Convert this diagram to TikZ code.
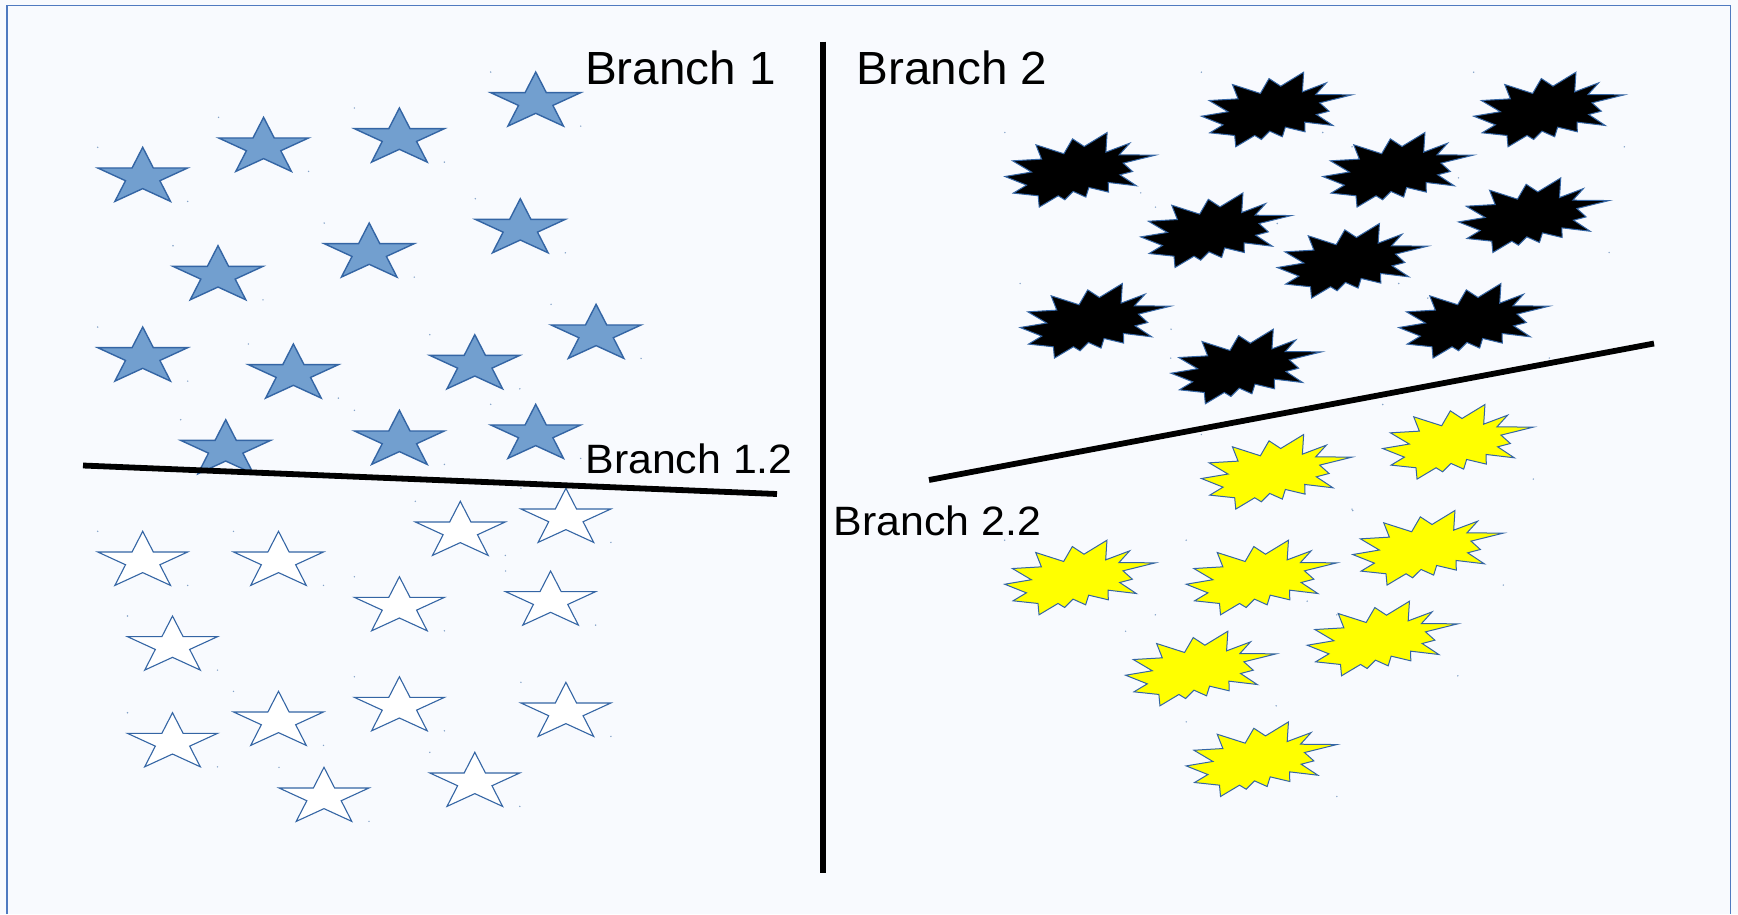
\documentclass[tikz,border=0pt]{standalone}
\usepackage{fontspec}
\setmainfont{Liberation Sans}[FakeStretch=1.045]
\newfontfamily\bigfont{Liberation Sans}[FakeStretch=1.025]
\definecolor{bg}{HTML}{F8FAFE}
\definecolor{framec}{HTML}{4F7AC0}
\definecolor{starfill}{HTML}{729FCF}
\definecolor{starline}{HTML}{3465A4}
\definecolor{boomyellow}{HTML}{FFFF00}
\tikzset{
  starpath/.style={insert path={(90:1) -- (126:0.382) -- (162:1) -- (198:0.382) -- (234:1) -- (270:0.382) -- (306:1) -- (342:0.382) -- (18:1) -- (54:0.382) -- cycle}},
  boompath/.style={insert path={(-1.0,-0.18) -- (-0.646,-0.06) -- (-0.898,0.241) -- (-0.513,0.286) -- (-0.588,0.67) -- (-0.217,0.43) -- (-0.102,0.83) -- (0.053,0.625) -- (0.358,1.0) -- (0.341,0.473) -- (0.659,0.714) -- (0.518,0.402) -- (1.0,0.393) -- (0.571,0.179) -- (0.695,-0.045) -- (0.527,-0.134) -- (0.748,-0.429) -- (0.372,-0.339) -- (0.376,-0.598) -- (0.115,-0.473) -- (0.075,-0.732) -- (-0.093,-0.58) -- (-0.204,-0.804) -- (-0.292,-0.696) -- (-0.544,-1.0) -- (-0.558,-0.696) -- (-0.889,-0.625) -- (-0.712,-0.411) -- cycle}},
  starsize/.style={xscale=47.3, yscale=-29.9},
  boomsize/.style={xscale=75.3, yscale=-37.3},
  bluestar/.style={draw=starline, fill=starfill, line width=1.4pt, line join=miter, starsize, starpath},
  whitestar/.style={draw=starline, fill=white, line width=1.1pt, line join=miter, starsize, starpath},
  blackboom/.style={draw=starline, fill=black, line width=1pt, boomsize, boompath},
  yellowboom/.style={draw=starline, fill=boomyellow, line width=1pt, boomsize, boompath},
  cornerdot/.style={fill=starline!60},
  heavy/.style={line width=5.8pt, black},
  biglabel/.style={anchor=base west, inner sep=0pt, font=\bigfont\fontsize{46.5}{50}\selectfont},
  smalllabel/.style={anchor=base west, inner sep=0pt, font=\fontsize{41}{45}\selectfont},
}
\begin{document}
\begin{tikzpicture}[x=1pt,y=-1pt]
\useasboundingbox (0,0) rectangle (1738,914);
\fill[bg] (0,0) rectangle (1738,914);
\draw[framec, line width=1.6pt] (6.7,914) -- (6.7,5.3) -- (1730.5,5.3) -- (1730.5,914);
% blue stars (centres)
\foreach \x/\y in {142.7/177.2, 263.6/147.2, 399.4/137.9, 535.7/101.9, 218/275.6, 369.2/252.9, 520.3/228.6, 142.7/356.9, 293.4/373.9, 474.8/364.6, 596.1/334.2, 225.7/449.6, 399.4/440.2, 535.7/434.2}{
  \begin{scope}[shift={(\x,\y)}]
    \path[bluestar];
    \fill[cornerdot] (-45,-29.9) circle (0.8);
    \fill[cornerdot] (45,24.2) circle (0.8);
  \end{scope}
}
% white stars
\foreach \x/\y in {142.7/561.2, 278.5/561.2, 460.3/531.2, 565.9/518.2, 399.4/606.6, 550.6/600.9, 172.5/645.9, 399.4/706.6, 565.9/712.2, 278.5/721.2, 172.5/742.6, 474.8/782.2, 324/797.2}{
  \begin{scope}[shift={(\x,\y)}]
    \path[whitestar];
    \fill[cornerdot] (-45,-29.9) circle (0.8);
    \fill[cornerdot] (45,24.2) circle (0.8);
  \end{scope}
}
% black explosions
\foreach \x/\y in {1080.2/169.8, 1276.7/109.5, 1549/109.5, 1398/169.8, 1216/230.2, 1533.8/215.2, 1352.5/260.8, 1095.4/320.8, 1474/320.8, 1246.3/366.5}{
  \begin{scope}[shift={(\x,\y)}]
    \path[blackboom];
    \fill[cornerdot] (-75.3,-37.3) circle (0.8);
    \fill[cornerdot] (75.3,37.3) circle (0.8);
  \end{scope}
}
% yellow explosions
\foreach \x/\y in {1276.7/471.8, 1458/441.8, 1080/577.5, 1261.5/577.5, 1428/547.8, 1200.9/668.5, 1382.5/638.5, 1261.5/759.2}{
  \begin{scope}[shift={(\x,\y)}]
    \path[yellowboom];
    \fill[cornerdot] (-75.3,-37.3) circle (0.8);
    \fill[cornerdot] (75.3,37.3) circle (0.8);
  \end{scope}
}
% dividing lines
\coordinate (vtop) at (823,41.7);
\coordinate (vbot) at (823,872.5);
\coordinate (l1a) at (83,465.5);
\coordinate (l1b) at (777,494);
\coordinate (l2a) at (929,480);
\coordinate (l2b) at (1654,343.5);
\draw[heavy] (vtop) -- (vbot);
\draw[heavy] (l1a) -- (l1b);
\draw[heavy] (l2a) -- (l2b);
% labels
\node[biglabel] (b1) at (585,84) {Branch 1};
\node[biglabel] (b2) at (856.5,84) {Branch 2};
\node[smalllabel] (b12) at (585.3,473.3) {Branch 1.2};
\node[smalllabel] (b22) at (833.5,535) {Branch 2.2};
\end{tikzpicture}
\end{document}
